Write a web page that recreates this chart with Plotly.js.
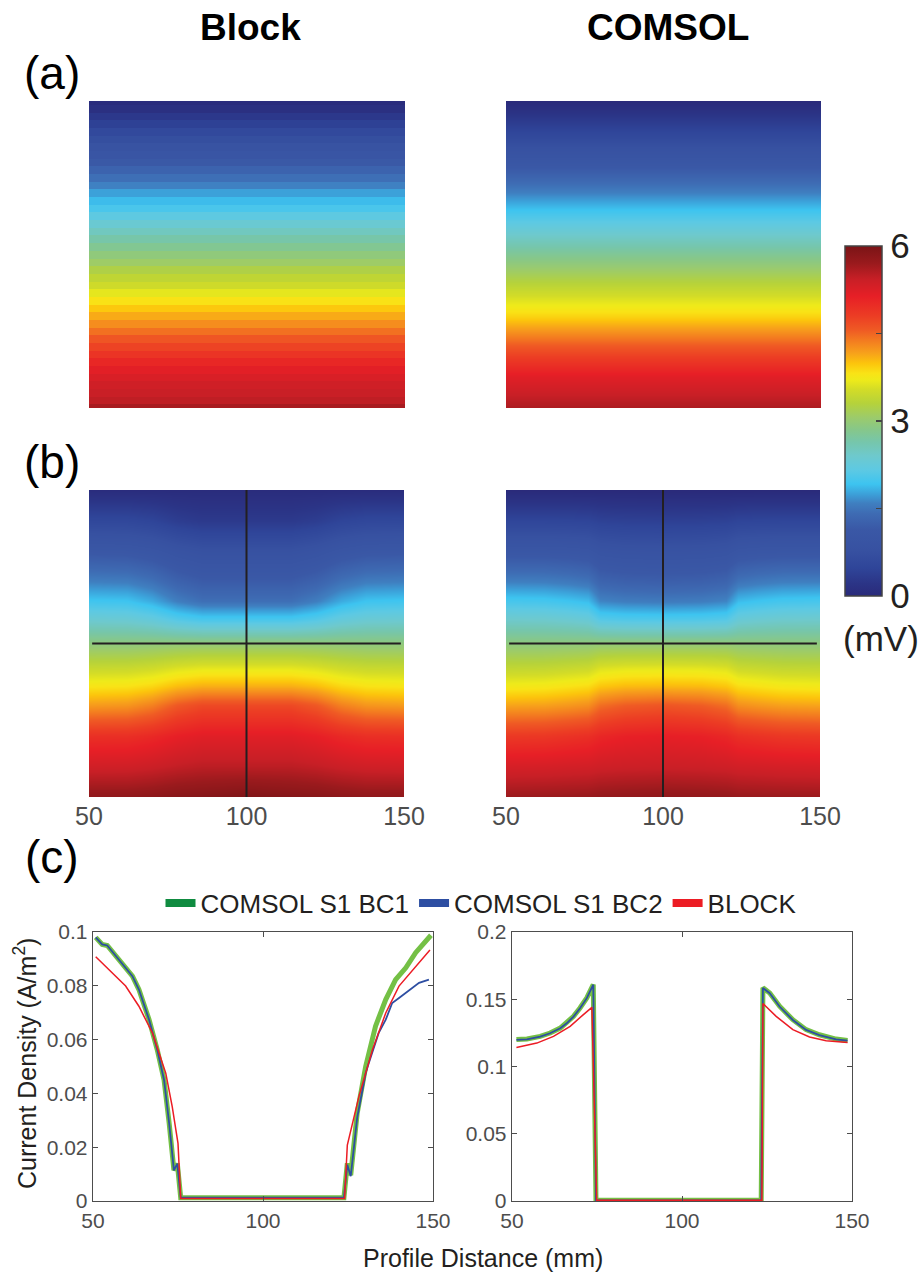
<!DOCTYPE html>
<html><head><meta charset="utf-8">
<script src="https://cdn.plot.ly/plotly-3.0.1.min.js"></script>
<style>html,body{margin:0;padding:0;background:#fff}#chart{width:922px;height:1276px}</style>
</head><body><div id="chart"></div>
<script>
// ---------- DATA ----------
// (a) potential (mV) vs. normalised depth (0 = top, 1 = bottom)
const depthBlockA = [0,0.025,0.05,0.075,0.1,0.125,0.15,0.175,0.2,0.225,0.25,0.275,0.3,0.325,0.35,0.375,0.4,0.425,0.45,0.475,0.5,0.525,0.55,0.575,0.6,0.625,0.65,0.675,0.7,0.725,0.75,0.775,0.8,0.825,0.85,0.875,0.9,0.925,0.95,0.975,1.0];
const potBlockA   = [0.05,0.12,0.28,0.42,0.58,0.72,0.88,1.0,1.15,1.3,1.45,1.6,1.75,1.88,2.02,2.18,2.35,2.5,2.65,2.8,2.95,3.08,3.24,3.38,3.5,3.65,3.82,3.97,4.12,4.28,4.44,4.6,4.75,4.9,5.05,5.18,5.28,5.36,5.42,5.48,5.62];
const depthComsolA = [0,0.1,0.2,0.3,0.4,0.5,0.6,0.7,0.8,0.9,1.0];
const potComsolA   = [0.0,0.5,1.05,1.6,2.2,2.8,3.35,3.9,4.6,5.2,5.6];
const profileX = [50,150];

// (b) potential grids: rows = depth, columns = profile distance (mm)
const depthB = [0,0.1,0.2,0.3,0.36,0.42,0.5,0.58,0.64,0.7,0.8,0.9,1.0];
const xBlockB = [50,62,70,78,86,100,114,122,130,138,150];
const potBlockB = [
  [0.05,0.05,0.05,0.05,0.05,0.05,0.05,0.05,0.05,0.05,0.05],
  [0.55,0.54,0.48,0.36,0.3,0.3,0.3,0.36,0.48,0.54,0.55],
  [1.1,1.08,1.01,0.88,0.8,0.8,0.8,0.88,1.01,1.08,1.1],
  [1.6,1.58,1.48,1.3,1.2,1.2,1.2,1.3,1.48,1.58,1.6],
  [1.95,1.93,1.8,1.58,1.45,1.45,1.45,1.58,1.8,1.93,1.95],
  [2.35,2.33,2.25,2.09,2.0,2.0,2.0,2.09,2.25,2.33,2.35],
  [2.95,2.95,2.97,2.99,3.0,3.0,3.0,2.99,2.97,2.95,2.95],
  [3.45,3.46,3.51,3.6,3.65,3.65,3.65,3.6,3.51,3.46,3.45],
  [3.8,3.82,3.89,4.03,4.1,4.1,4.1,4.03,3.89,3.82,3.8],
  [4.2,4.23,4.35,4.58,4.7,4.7,4.7,4.58,4.35,4.23,4.2],
  [4.95,4.96,5.03,5.14,5.2,5.2,5.2,5.14,5.03,4.96,4.95],
  [5.35,5.36,5.4,5.46,5.5,5.5,5.5,5.46,5.4,5.36,5.35],
  [5.8,5.8,5.83,5.88,5.9,5.95,5.9,5.88,5.83,5.8,5.8]
];
const xComsolB = [50,62,70,76,80,88,100,112,120,124,130,138,150];
const potComsolB = [
  [0.0,0.0,0.0,0.0,0.0,0.0,0.0,0.0,0.0,0.0,0.0,0.0,0.0],
  [0.5,0.5,0.49,0.48,0.43,0.41,0.4,0.41,0.43,0.48,0.49,0.5,0.5],
  [1.05,1.05,1.03,1.0,0.9,0.86,0.85,0.86,0.9,1.0,1.03,1.05,1.05],
  [1.6,1.59,1.55,1.5,1.32,1.27,1.25,1.27,1.32,1.5,1.55,1.59,1.6],
  [2.0,1.98,1.93,1.88,1.62,1.57,1.55,1.57,1.62,1.88,1.93,1.98,2.0],
  [2.4,2.39,2.35,2.3,2.1,2.06,2.05,2.06,2.1,2.3,2.35,2.39,2.4],
  [2.95,2.95,2.96,2.97,3.0,3.0,3.0,3.0,3.0,2.97,2.96,2.95,2.95],
  [3.4,3.41,3.45,3.48,3.6,3.64,3.65,3.64,3.6,3.48,3.45,3.41,3.4],
  [3.75,3.77,3.82,3.86,3.98,4.04,4.05,4.04,3.98,3.86,3.82,3.77,3.75],
  [4.15,4.17,4.22,4.27,4.45,4.55,4.6,4.55,4.45,4.27,4.22,4.17,4.15],
  [4.85,4.87,4.92,4.96,5.05,5.12,5.15,5.12,5.05,4.96,4.92,4.87,4.85],
  [5.3,5.31,5.33,5.34,5.37,5.39,5.4,5.39,5.37,5.34,5.33,5.31,5.3],
  [5.7,5.71,5.72,5.73,5.76,5.78,5.8,5.78,5.76,5.73,5.72,5.71,5.7]
];

// (c) current density (A/m^2) along the profile
const distL_BC1 = [50.8,52.7,54.2,56.5,58.6,61.6,63.5,66.5,68.9,70.9,72.4,73.3,73.8,74.8,75.8,100,123.8,124.8,125.8,127.7,130.2,133.1,136.1,139,142,144.9,147.4,149.4];
const jL_BC1    = [0.098,0.0954,0.095,0.0915,0.088,0.0836,0.0786,0.0674,0.0562,0.045,0.0289,0.0177,0.0114,0.0139,0.0012,0.0012,0.0012,0.014,0.0096,0.0326,0.05,0.065,0.0749,0.0823,0.0867,0.0923,0.096,0.0988];
const distL_BC2 = [50.8,52.7,54.2,56.5,58.6,61.6,63.5,66.5,68.9,70.9,72.4,73.3,73.8,74.8,75.8,100,123.8,124.8,125.8,127.7,130.2,131.1,134,136.1,138,140,142,145.9,148.8];
const jL_BC2    = [0.098,0.0954,0.095,0.0915,0.088,0.0836,0.0786,0.0674,0.0562,0.045,0.0289,0.0177,0.0114,0.0139,0.0012,0.0012,0.0012,0.0135,0.0092,0.031,0.0475,0.0512,0.0624,0.0674,0.0736,0.0755,0.0774,0.0811,0.0823];
const distL_Block = [50.8,54.7,59.6,63.5,67.5,71.4,73.3,75.0,75.8,100,124.0,124.8,128.2,132.2,136.1,140,145,149.1];
const jL_Block    = [0.0908,0.0861,0.0799,0.0724,0.0624,0.0475,0.0351,0.0214,0.0009,0.0009,0.0009,0.0208,0.0388,0.0562,0.0699,0.0799,0.0873,0.0933];

const distR_BC = [51.3,54.4,58.3,61.2,64.2,66.1,68.1,70,72,73.9,74.7,100,123.3,123.8,125.8,128.7,132.6,136.5,140.4,145.3,148.7];
const jR_BC1   = [0.12,0.1204,0.1224,0.1249,0.1286,0.1323,0.1373,0.1435,0.151,0.161,0.0005,0.0005,0.0005,0.1585,0.1547,0.1448,0.1348,0.1274,0.1236,0.1204,0.1194];
const jR_BC2   = [0.1198,0.1202,0.1222,0.1247,0.1284,0.1321,0.1371,0.1433,0.1508,0.1608,0.0005,0.0005,0.0005,0.1583,0.1545,0.1446,0.1346,0.1272,0.1234,0.1202,0.1192];
const distR_Block = [51.3,57.3,62.2,67.1,71,73.5,74.9,100,123.5,123.8,127.7,132.6,137.5,142.4,148.7];
const jR_Block    = [0.1142,0.1174,0.1224,0.1299,0.1386,0.144,0.0005,0.0005,0.0005,0.1468,0.1373,0.1274,0.1219,0.1192,0.1179];

const legendNames = ['COMSOL S1 BC1','COMSOL S1 BC2','BLOCK'];
const colTicks = [0,1.5,3,4.5,6];
const colTickText = ['0','','3','','6'];

// ---------- STYLE ----------
const jet = [
  [0.0,'#2a2a7a'],[0.035,'#2b3486'],[0.08,'#2f4599'],[0.13,'#3751a1'],[0.19,'#3a58a6'],
  [0.235,'#3e6bb3'],[0.265,'#3f7fc0'],[0.29,'#3c9fd8'],[0.32,'#3dc4f0'],[0.36,'#5dc9e3'],
  [0.40,'#6ec9cd'],[0.44,'#76c6ab'],[0.475,'#86c78a'],[0.51,'#9ccb6b'],[0.55,'#b5d23b'],
  [0.59,'#d3dc27'],[0.617,'#eeea1a'],[0.636,'#f9e316'],[0.665,'#fcc40c'],[0.695,'#f7a01b'],
  [0.73,'#f37b20'],[0.76,'#ef5a24'],[0.80,'#ec3d24'],[0.856,'#e71f26'],[0.905,'#c81f26'],
  [0.95,'#9a1a1d'],[1.0,'#7a1416']
];
const W = 922, H = 1276;
const px = v => v / W;
const py = v => 1 - v / H;
const FONT = 'Liberation Sans, Arial, Helvetica, sans-serif';
const GREEN = '#74c045', GREEN_LEG = '#0f8b40', BLUE = '#2d4ea2', RED = '#ec1c24';
const AX = '#4d4d4d';

const rowsTo2D = vals => vals.map(v => profileX.map(() => v));

const traces = [
  {type:'heatmap', x: profileX, y: depthBlockA, z: rowsTo2D(potBlockA), coloraxis:'coloraxis', zsmooth:false, xaxis:'x', yaxis:'y', hoverinfo:'skip'},
  {type:'heatmap', x: profileX, y: depthComsolA, z: rowsTo2D(potComsolA), coloraxis:'coloraxis', zsmooth:'best', xaxis:'x2', yaxis:'y2', hoverinfo:'skip'},
  {type:'heatmap', x: xBlockB, y: depthB, z: potBlockB, coloraxis:'coloraxis', zsmooth:'best', xaxis:'x3', yaxis:'y3', hoverinfo:'skip'},
  {type:'heatmap', x: xComsolB, y: depthB, z: potComsolB, coloraxis:'coloraxis', zsmooth:'best', xaxis:'x4', yaxis:'y4', hoverinfo:'skip'},
  // left line chart
  {type:'scatter', mode:'lines', x: distL_BC1, y: jL_BC1, xaxis:'x5', yaxis:'y5', line:{color:GREEN, width:5}, showlegend:false},
  {type:'scatter', mode:'lines', x: distL_BC2, y: jL_BC2, xaxis:'x5', yaxis:'y5', line:{color:BLUE, width:1.8}, showlegend:false},
  {type:'scatter', mode:'lines', x: distL_Block, y: jL_Block, xaxis:'x5', yaxis:'y5', line:{color:RED, width:1.5}, showlegend:false},
  // right line chart
  {type:'scatter', mode:'lines', x: distR_BC, y: jR_BC1, xaxis:'x6', yaxis:'y6', line:{color:GREEN, width:5}, showlegend:false},
  {type:'scatter', mode:'lines', x: distR_BC, y: jR_BC2, xaxis:'x6', yaxis:'y6', line:{color:BLUE, width:1.8}, showlegend:false},
  {type:'scatter', mode:'lines', x: distR_Block, y: jR_Block, xaxis:'x6', yaxis:'y6', line:{color:RED, width:1.5}, showlegend:false},
  // legend entries
  {type:'scatter', mode:'lines', x:[null], y:[null], xaxis:'x5', yaxis:'y5', name: legendNames[0], line:{color:GREEN_LEG, width:8}},
  {type:'scatter', mode:'lines', x:[null], y:[null], xaxis:'x5', yaxis:'y5', name: legendNames[1], line:{color:BLUE, width:8}},
  {type:'scatter', mode:'lines', x:[null], y:[null], xaxis:'x5', yaxis:'y5', name: legendNames[2], line:{color:RED, width:8}}
];

const heatX = (d, labels) => ({domain:d, range:[50,150], showgrid:false, zeroline:false, showline:false, ticks:'',
  showticklabels:labels, tickvals:[50,100,150], tickfont:{size:25, color:AX, family:FONT}, ticklabelstandoff:2, fixedrange:true});
const heatY = (d) => ({domain:d, range:[1,0], showgrid:false, zeroline:false, showline:false, ticks:'', showticklabels:false, fixedrange:true});
const lineX = (d, anchor) => ({domain:d, anchor:anchor, range:[50,150], tickvals:[50,100,150], ticks:'inside', ticklen:5, tickcolor:AX,
  showline:true, linecolor:AX, linewidth:1.3, mirror:'ticks', showgrid:false, zeroline:false, tickfont:{size:21, color:AX, family:FONT}});
const lineY = (d, anchor, max, dt) => ({domain:d, anchor:anchor, range:[0,max], dtick:dt, tick0:0, ticks:'inside', ticklen:5, tickcolor:AX,
  showline:true, linecolor:AX, linewidth:1.3, mirror:'ticks', showgrid:false, zeroline:false, tickfont:{size:21, color:AX, family:FONT}});

const ann = (text, x, y, size, extra) => Object.assign({text:text, x:px(x), y:py(y), xref:'paper', yref:'paper',
  xanchor:'center', yanchor:'middle', showarrow:false, font:{size:size, color:'#231f20', family:FONT}}, extra || {});

const dA = [py(408), py(101)], dB = [py(797), py(490)], dC = [py(1201), py(932)];
const layout = {
  width: W, height: H, margin:{l:0,r:0,t:0,b:0}, paper_bgcolor:'#fff', plot_bgcolor:'#fff',
  font:{family:FONT, color:'#231f20'},
  xaxis: Object.assign(heatX([px(89), px(405)], false), {anchor:'y'}), yaxis: Object.assign(heatY(dA), {anchor:'x'}),
  xaxis2: Object.assign(heatX([px(506), px(821)], false), {anchor:'y2'}), yaxis2: Object.assign(heatY(dA), {anchor:'x2'}),
  xaxis3: Object.assign(heatX([px(89), px(404)], true), {anchor:'y3'}), yaxis3: Object.assign(heatY(dB), {anchor:'x3'}),
  xaxis4: Object.assign(heatX([px(506), px(820)], true), {anchor:'y4'}), yaxis4: Object.assign(heatY(dB), {anchor:'x4'}),
  xaxis5: lineX([px(93), px(433)], 'y5'), yaxis5: lineY(dC, 'x5', 0.1, 0.02),
  xaxis6: lineX([px(512), px(852)], 'y6'), yaxis6: lineY(dC, 'x6', 0.2, 0.05),
  coloraxis: {cmin:0, cmax:6, colorscale: jet,
    colorbar:{x:px(845), xanchor:'left', xref:'paper', y:py(596), yanchor:'bottom', yref:'paper',
      len:350, lenmode:'pixels', thickness:37, thicknessmode:'pixels', xpad:0, ypad:0,
      outlinecolor:'#444', outlinewidth:1.5, tickvals:colTicks, ticktext:colTickText,
      ticks:'inside', ticklen:6, tickcolor:'#444', tickwidth:1.5, tickfont:{size:35, color:'#231f20', family:FONT}}},
  legend:{orientation:'h', x:px(481), xanchor:'center', y:py(903), yanchor:'middle', font:{size:26, color:'#231f20', family:FONT},
    itemwidth:30, bgcolor:'rgba(0,0,0,0)', itemclick:false, itemdoubleclick:false},
  shapes: [
    {type:'line', xref:'x3', yref:'y3', x0:100, x1:100, y0:-0.003, y1:1, line:{color:'#231f20', width:2}},
    {type:'line', xref:'x3', yref:'y3', x0:51, x1:149, y0:0.5, y1:0.5, line:{color:'#231f20', width:2}},
    {type:'line', xref:'x4', yref:'y4', x0:100, x1:100, y0:-0.003, y1:1, line:{color:'#231f20', width:2}},
    {type:'line', xref:'x4', yref:'y4', x0:51, x1:149, y0:0.5, y1:0.5, line:{color:'#231f20', width:2}}
  ],
  annotations: [
    ann('<b>Block</b>', 250, 27, 37, {font:{size:37, color:'#000', family:FONT}}),
    ann('<b>COMSOL</b>', 668, 27, 37, {font:{size:37, color:'#000', family:FONT}}),
    ann('(a)', 52, 73, 46, {font:{size:46, color:'#000', family:FONT}}),
    ann('(b)', 52, 462, 46, {font:{size:46, color:'#000', family:FONT}}),
    ann('(c)', 52, 857, 46, {font:{size:46, color:'#000', family:FONT}}),
    ann('(mV)', 881, 638, 35),
    ann('Current Density (A/m<sup>2</sup>)', 25, 1064, 25, {textangle:-90}),
    ann('Profile Distance (mm)', 483, 1258, 25)
  ]
};

Plotly.newPlot('chart', traces, layout, {staticPlot:true, displayModeBar:false});
</script>
</body></html>
